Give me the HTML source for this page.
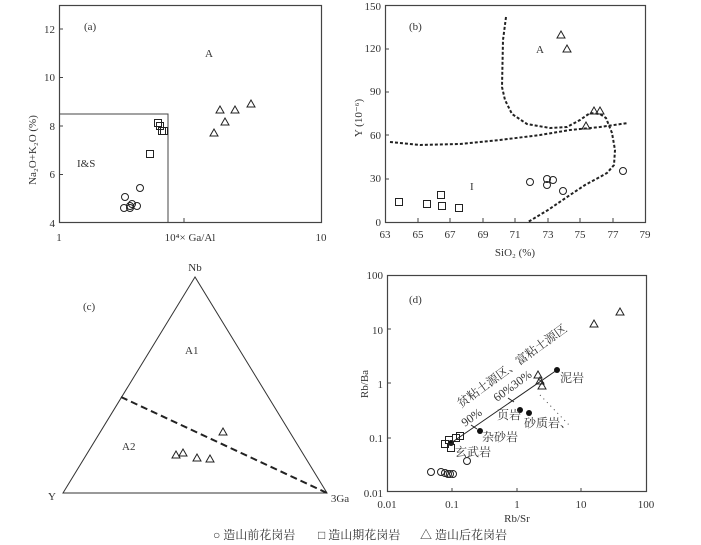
<!DOCTYPE html><html><head><meta charset="utf-8"><style>body{margin:0;background:#fff}svg{display:block}text{font-family:"Liberation Serif","Noto Serif CJK SC",serif;fill:#333}</style></head><body>
<svg width="701" height="545" viewBox="0 0 701 545" xmlns="http://www.w3.org/2000/svg">
<defs>
<symbol id="c" overflow="visible"><circle r="3.5" fill="none" stroke="#222" stroke-width="1"/></symbol>
<symbol id="s" overflow="visible"><rect x="-3.5" y="-3.5" width="7" height="7" fill="none" stroke="#222" stroke-width="1"/></symbol>
<symbol id="t" overflow="visible"><path d="M0,-4 L4,3 L-4,3 Z" fill="none" stroke="#222" stroke-width="1"/></symbol>
</defs>
<g font-size="11">
<!-- (a) -->
<rect x="59.5" y="5.5" width="262" height="217" fill="none" stroke="#444" stroke-width="1.2"/>
<polyline points="59.5,114 168,114 168,222.5" fill="none" stroke="#444" stroke-width="1"/>
<g stroke="#444"><line x1="59" y1="29" x2="63" y2="29"/><line x1="59" y1="77.5" x2="63" y2="77.5"/><line x1="59" y1="126" x2="63" y2="126"/><line x1="59" y1="174.5" x2="63" y2="174.5"/><line x1="184" y1="222" x2="184" y2="218"/></g>
<g text-anchor="end"><text x="55" y="33">12</text><text x="55" y="81">10</text><text x="55" y="130">8</text><text x="55" y="178">6</text><text x="55" y="227">4</text></g>
<text x="59" y="241" text-anchor="middle" fill="#8a4a20">1</text><text x="321" y="241" text-anchor="middle">10</text>
<text x="190" y="241" text-anchor="middle">10⁴× Ga/Al</text>
<text transform="translate(36,150) rotate(-90)" text-anchor="middle" fill="#7a3a1a">Na₂O+K₂O (%)</text>
<text x="84" y="30">(a)</text><text x="205" y="57">A</text><text x="77" y="167">I&amp;S</text>
<use href="#c" x="125" y="197"/><use href="#c" x="140" y="188"/><use href="#c" x="124" y="208"/><use href="#c" x="130" y="206"/><use href="#c" x="132" y="204"/><use href="#c" x="137" y="206"/><use href="#c" x="130" y="208"/>
<use href="#s" x="158" y="123"/><use href="#s" x="160" y="126"/><use href="#s" x="162" y="131"/><use href="#s" x="164" y="131"/><use href="#s" x="150" y="154"/>
<use href="#t" x="214" y="133"/><use href="#t" x="220" y="110"/><use href="#t" x="225" y="122"/><use href="#t" x="235" y="110"/><use href="#t" x="251" y="104"/>

<!-- (b) -->
<rect x="385.5" y="5.5" width="260" height="217" fill="none" stroke="#444" stroke-width="1.2"/>
<g text-anchor="end"><text x="381" y="10">150</text><text x="381" y="52">120</text><text x="381" y="95">90</text><text x="381" y="139">60</text><text x="381" y="182">30</text><text x="381" y="226">0</text></g>
<g text-anchor="middle"><text x="385" y="238">63</text><text x="418" y="238">65</text><text x="450" y="238">67</text><text x="483" y="238">69</text><text x="515" y="238">71</text><text x="548" y="238">73</text><text x="580" y="238">75</text><text x="613" y="238">77</text><text x="645" y="238">79</text></g>
<g stroke="#444"><line x1="418" y1="222" x2="418" y2="218"/><line x1="450" y1="222" x2="450" y2="218"/><line x1="483" y1="222" x2="483" y2="218"/><line x1="515" y1="222" x2="515" y2="218"/><line x1="548" y1="222" x2="548" y2="218"/><line x1="580" y1="222" x2="580" y2="218"/><line x1="613" y1="222" x2="613" y2="218"/><line x1="385" y1="49" x2="389" y2="49"/><line x1="385" y1="92" x2="389" y2="92"/><line x1="385" y1="135" x2="389" y2="135"/><line x1="385" y1="179" x2="389" y2="179"/></g>
<text x="515" y="256" text-anchor="middle">SiO₂ (%)</text>
<text transform="translate(362,118) rotate(-90)" text-anchor="middle" fill="#7a3a1a">Y (10⁻⁶)</text>
<text x="409" y="30">(b)</text><text x="536" y="53">A</text><text x="470" y="190">I</text>
<g fill="none" stroke="#222" stroke-width="2" stroke-dasharray="3,2">
<polyline points="506,17 503,40 502,87 505,100 512,114 527,124 550,128 567,127 580,120 590,113 600,114 606,118 612,133 615,150 614,165 607,173 598,178 585,185 570,195 548,210 528,222"/>
<polyline points="390,142 420,145 460,144 500,140 540,135 570,130 600,127 628,123"/>
</g>
<use href="#t" x="561" y="35"/><use href="#t" x="567" y="49"/><use href="#t" x="594" y="111"/><use href="#t" x="600" y="111"/><use href="#t" x="586" y="126"/>
<use href="#c" x="530" y="182"/><use href="#c" x="547" y="179"/><use href="#c" x="553" y="180"/><use href="#c" x="547" y="185"/><use href="#c" x="563" y="191"/><use href="#c" x="623" y="171"/>
<use href="#s" x="399" y="202"/><use href="#s" x="427" y="204"/><use href="#s" x="441" y="195"/><use href="#s" x="442" y="206"/><use href="#s" x="459" y="208"/>

<!-- (c) -->
<polygon points="195,277 63,493 327,493" fill="none" stroke="#333" stroke-width="1"/>
<line x1="121" y1="397" x2="327" y2="493" stroke="#222" stroke-width="2" stroke-dasharray="7,4"/>
<text x="195" y="271" text-anchor="middle">Nb</text><text x="52" y="500" text-anchor="middle">Y</text><text x="340" y="502" text-anchor="middle">3Ga</text>
<text x="83" y="310">(c)</text><text x="185" y="354">A1</text><text x="122" y="450">A2</text>
<use href="#t" x="223" y="432"/><use href="#t" x="176" y="455"/><use href="#t" x="183" y="453"/><use href="#t" x="197" y="458"/><use href="#t" x="210" y="459"/>

<!-- (d) -->
<rect x="387.5" y="275.5" width="259" height="216" fill="none" stroke="#444" stroke-width="1.2"/>
<g text-anchor="end"><text x="383" y="279">100</text><text x="383" y="334">10</text><text x="383" y="388">1</text><text x="383" y="442">0.1</text><text x="383" y="497">0.01</text></g>
<g text-anchor="middle"><text x="387" y="508">0.01</text><text x="452" y="508">0.1</text><text x="517" y="508">1</text><text x="581" y="508">10</text><text x="646" y="508">100</text></g>
<g stroke="#444"><line x1="452" y1="492" x2="452" y2="488"/><line x1="517" y1="492" x2="517" y2="488"/><line x1="581" y1="492" x2="581" y2="488"/><line x1="387" y1="329" x2="391" y2="329"/><line x1="387" y1="383" x2="391" y2="383"/><line x1="387" y1="438" x2="391" y2="438"/></g>
<text x="517" y="522" text-anchor="middle">Rb/Sr</text>
<text transform="translate(368,384) rotate(-90)" text-anchor="middle">Rb/Ba</text>
<text x="409" y="303">(d)</text>
<line x1="451" y1="443" x2="557" y2="370" stroke="#222" stroke-width="1"/>
<g stroke="#222"><line x1="471" y1="425" x2="477" y2="429"/><line x1="508" y1="398" x2="514" y2="402"/><line x1="538" y1="379" x2="544" y2="383"/></g>
<line x1="540" y1="395" x2="570" y2="426" stroke="#444" stroke-dasharray="1,4"/>
<g fill="#111"><circle cx="451" cy="443" r="3"/><circle cx="480" cy="431" r="3"/><circle cx="520" cy="410" r="3"/><circle cx="529" cy="413" r="3"/><circle cx="557" cy="370" r="3"/></g>
<use href="#c" x="431" y="472"/><use href="#c" x="441" y="472"/><use href="#c" x="445" y="473"/><use href="#c" x="448" y="474"/><use href="#c" x="450" y="474"/><use href="#c" x="453" y="474"/><use href="#c" x="467" y="461"/>
<use href="#s" x="445" y="444"/><use href="#s" x="451" y="448"/><use href="#s" x="449" y="440"/><use href="#s" x="456" y="438"/><use href="#s" x="460" y="436"/>
<use href="#t" x="538" y="375"/><use href="#t" x="540" y="381"/><use href="#t" x="542" y="386"/><use href="#t" x="594" y="324"/><use href="#t" x="620" y="312"/>
<g font-size="12" fill="#7a4a2a">
<text transform="translate(461,408) rotate(-36)" fill="#7a4a2a">贫粘土源区、富粘土源区</text>
<text transform="translate(497,402) rotate(-36)" fill="#7a4a2a">60%30%</text>
<text transform="translate(465,427) rotate(-36)" fill="#7a4a2a">90%</text>
</g>
<g font-size="12"><text x="497" y="419">页岩</text><text x="524" y="427" fill="#345">砂质岩、</text><text x="482" y="441">杂砂岩</text><text x="455" y="456">玄武岩</text><text x="560" y="382">泥岩</text></g>

<!-- legend -->
<g font-size="12"><text x="213" y="539">○ 造山前花岗岩</text><text x="318" y="539">□ 造山期花岗岩</text><text x="420" y="539">△ 造山后花岗岩</text></g>
</g>
</svg></body></html>
